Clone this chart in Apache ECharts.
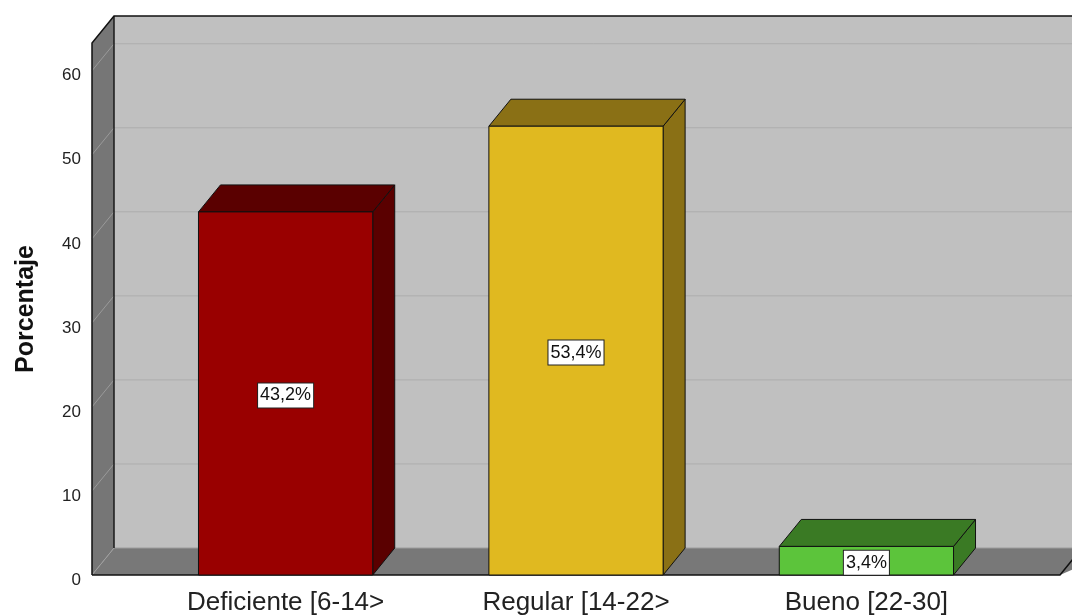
<!DOCTYPE html>
<html>
<head>
<meta charset="utf-8">
<title>Porcentaje por nivel</title>
<script src="https://cdn.jsdelivr.net/npm/echarts@6/dist/echarts.min.js"></script>
<style>
  html, body { margin: 0; padding: 0; background: #ffffff; }
  #chart { width: 1072px; height: 616px; }
</style>
</head>
<body>
<div id="chart"></div>
<script>
// Categories and their percentages
const categories = ['Deficiente [6-14>', 'Regular [14-22>', 'Bueno [22-30]'];
const values = [43.2, 53.4, 3.4];
const valueLabels = ['43,2%', '53,4%', '3,4%'];
const yTicks = [0, 10, 20, 30, 40, 50, 60];

// Face colours per bar: front, top/side
const frontColors = ['#990000', '#e0b920', '#5cc43b'];
const shadeColors = ['#5a0000', '#8a7015', '#3a7a24'];

const FONT = '"Liberation Sans", Arial, sans-serif';
const DEPTH_X = 22;   // 3D depth offset in pixels
const DEPTH_Y = -27;
const BAR_WIDTH = 0.6; // in category units
const X_MIN = -2 / 3, X_MAX = 8 / 3, Y_MAX = 63.3;

const chart = echarts.init(document.getElementById('chart'), null, { renderer: 'canvas' });

function poly(points, fill, stroke, lw) {
  return {
    type: 'polygon',
    shape: { points: points },
    style: { fill: fill, stroke: stroke || null, lineWidth: lw || 0 }
  };
}
function line(x1, y1, x2, y2, stroke, lw) {
  return {
    type: 'line',
    shape: { x1: x1, y1: y1, x2: x2, y2: y2 },
    style: { stroke: stroke, lineWidth: lw || 1 }
  };
}

// Walls, floor and gridlines of the 3D box
function renderFrame(params, api) {
  const p0 = api.coord([X_MIN, 0]);
  const pTop = api.coord([X_MIN, Y_MAX]);
  const pR = api.coord([X_MAX, 0]);
  const L = p0[0], B = p0[1], T = pTop[1], R = pR[0];
  const dx = DEPTH_X, dy = DEPTH_Y;
  const children = [];
  // back wall
  children.push({ type: 'rect', shape: { x: L + dx, y: T + dy, width: R - L + 40, height: B - T }, style: { fill: '#c0c0c0' } });
  // left side wall
  children.push(poly([[L, T], [L + dx, T + dy], [L + dx, B + dy], [L, B]], '#767676'));
  // floor
  children.push(poly([[L, B], [L + dx, B + dy], [R + dx + 40, B + dy], [R, B]], '#787878'));
  // gridlines on back and side wall
  yTicks.forEach(function (v) {
    const y = api.coord([X_MIN, v])[1];
    if (v > 0) {
      children.push(line(L + dx, y + dy, R + dx + 40, y + dy, '#adadad', 1));
      children.push(line(L, y, L + dx, y + dy, '#9a9a9a', 1));
    }
  });
  // back edge of the floor and the floor/wall seam
  children.push(line(L + dx, B + dy, R + dx + 40, B + dy, '#9c9c9c', 1));
  children.push(line(L, B, L + dx, B + dy, '#a0a0a0', 1));
  // back wall left edge
  children.push(line(L + dx, T + dy, L + dx, B + dy, '#1a1a1a', 1.5));
  // outer outline
  children.push({
    type: 'polyline',
    shape: { points: [[L, B], [L, T], [L + dx, T + dy], [R + dx + 40, T + dy]] },
    style: { stroke: '#111111', lineWidth: 1.5, fill: null }
  });
  children.push({
    type: 'polyline',
    shape: { points: [[L, B], [R, B], [R + dx, B + dy]] },
    style: { stroke: '#111111', lineWidth: 1.5, fill: null }
  });
  return { type: 'group', children: children };
}

// One 3D bar: front face, top face, right side and value label
function renderBar(params, api) {
  const i = api.value(0);
  const v = api.value(1);
  const top = api.coord([i, v]);
  const base = api.coord([i, 0]);
  const w = api.size([BAR_WIDTH, 0])[0];
  const x0 = top[0] - w / 2, x1 = top[0] + w / 2;
  const yT = top[1], yB = base[1];
  const dx = DEPTH_X, dy = DEPTH_Y;
  const idx = params.dataIndex;
  const edge = '#111111';
  return {
    type: 'group',
    children: [
      poly([[x1, yT], [x1 + dx, yT + dy], [x1 + dx, yB + dy], [x1, yB]], shadeColors[idx], edge, 1),
      poly([[x0, yT], [x0 + dx, yT + dy], [x1 + dx, yT + dy], [x1, yT]], shadeColors[idx], edge, 1),
      { type: 'rect', shape: { x: x0, y: yT, width: w, height: yB - yT }, style: { fill: frontColors[idx], stroke: edge, lineWidth: 1 } },
      {
        type: 'text',
        style: {
          text: valueLabels[idx],
          x: (x0 + x1) / 2,
          y: (yT + yB) / 2 + 2,
          align: 'center',
          verticalAlign: 'middle',
          font: '18px ' + FONT,
          fill: '#111111',
          backgroundColor: '#ffffff',
          borderColor: '#222222',
          borderWidth: 1,
          padding: [4, 2, 2, 2]
        }
      }
    ]
  };
}

const option = {
  backgroundColor: '#ffffff',
  animation: false,
  grid: { left: 92, right: 12, top: 43, bottom: 40 },
  xAxis: {
    type: 'value',
    min: X_MIN,
    max: X_MAX,
    axisLine: { show: false },
    axisTick: { show: false },
    splitLine: { show: false },
    axisLabel: {
      customValues: [0, 1, 2],
      formatter: function (v) { return categories[Math.round(v)] || ''; },
      fontFamily: FONT,
      fontSize: 26,
      color: '#222222',
      margin: 15
    }
  },
  yAxis: {
    type: 'value',
    min: 0,
    max: Y_MAX,
    interval: 10,
    name: 'Porcentaje',
    nameLocation: 'middle',
    nameGap: 53,
    nameTextStyle: { fontFamily: FONT, fontSize: 25, fontWeight: 'bold', color: '#111111' },
    axisLine: { show: false },
    axisTick: { show: false },
    splitLine: { show: false },
    axisLabel: {
      showMaxLabel: false,
      fontFamily: FONT,
      fontSize: 17,
      color: '#222222',
      margin: 11,
      verticalAlign: 'top',
      lineHeight: 10
    }
  },
  series: [
    {
      type: 'custom',
      name: 'frame',
      z: 1,
      silent: true,
      clip: false,
      renderItem: renderFrame,
      data: [[0, 0]]
    },
    {
      type: 'custom',
      name: 'Porcentaje',
      z: 2,
      clip: false,
      renderItem: renderBar,
      encode: { x: 0, y: 1 },
      data: values.map(function (v, i) { return [i, v]; })
    }
  ]
};

chart.setOption(option);
</script>
</body>
</html>
